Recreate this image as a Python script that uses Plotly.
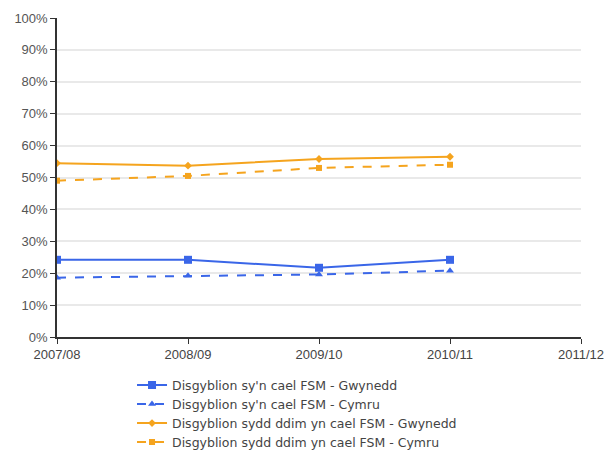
import plotly.graph_objects as go

years = ["2007/08", "2008/09", "2009/10", "2010/11", "2011/12"]
fsm_gwynedd = [24.2, 24.2, 21.7, 24.2]
fsm_cymru = [18.6, 19.2, 19.6, 20.8]
nonfsm_gwynedd = [54.5, 53.7, 55.8, 56.5]
nonfsm_cymru = [49.0, 50.5, 53.0, 54.0]
names = [
    "Disgyblion sy'n cael FSM - Gwynedd",
    "Disgyblion sy'n cael FSM - Cymru",
    "Disgyblion sydd ddim yn cael FSM - Gwynedd",
    "Disgyblion sydd ddim yn cael FSM - Cymru",
]
y_ticks = [0, 10, 20, 30, 40, 50, 60, 70, 80, 90, 100]

BLUE = "#3a66e8"
ORANGE = "#f5a41e"

fig = go.Figure()
series = [
    (fsm_gwynedd, names[0], BLUE, "solid", "square", 8),
    (fsm_cymru, names[1], BLUE, "dash", "triangle-up", 7),
    (nonfsm_gwynedd, names[2], ORANGE, "solid", "diamond", 6),
    (nonfsm_cymru, names[3], ORANGE, "dash", "square", 6),
]
for vals, name, color, dash, sym, size in series:
    fig.add_trace(go.Scatter(
        x=years[:len(vals)], y=vals,
        name=f'<span style="font-size:12.5px">{name}</span>',
        mode="lines+markers",
        line=dict(color=color, width=2, dash=dash),
        marker=dict(color=color, symbol=sym, size=size),
    ))

fig.update_layout(
    width=607, height=450,
    margin=dict(l=57, r=26, t=18, b=113, autoexpand=False),
    plot_bgcolor="white", paper_bgcolor="white",
    font=dict(family="Liberation Sans, Arial, sans-serif", size=13, color="#555"),
    xaxis=dict(
        type="category", categoryorder="array", categoryarray=years,
        range=[0, 4], showgrid=False,
        showline=True, linecolor="#333", linewidth=1.5,
        ticks="outside", ticklen=5, tickcolor="#333",
        tickfont=dict(size=13, color="#444"),
        fixedrange=True, automargin=False,
    ),
    yaxis=dict(
        range=[0, 100], tickvals=y_ticks,
        ticktext=[f"{v}%" for v in y_ticks],
        showgrid=True, gridcolor="#e9e9e9", gridwidth=1.5,
        showline=True, linecolor="#333", linewidth=1.5,
        ticks="outside", ticklen=5, tickcolor="#333",
        tickfont=dict(size=13, color="#555"),
        zeroline=False, fixedrange=True, automargin=False,
    ),
    legend=dict(
        xref="container", yref="container",
        x=0.2175, y=0.1765, xanchor="left", yanchor="top",
        font=dict(family="DejaVu Sans, Verdana, sans-serif", size=12, color="#444"),
        tracegroupgap=0, itemwidth=30,
        bgcolor="rgba(0,0,0,0)",
    ),
    showlegend=True,
)

fig.write_html("out.html", config={"displayModeBar": False},
               post_script="document.body.style.margin='0';")
